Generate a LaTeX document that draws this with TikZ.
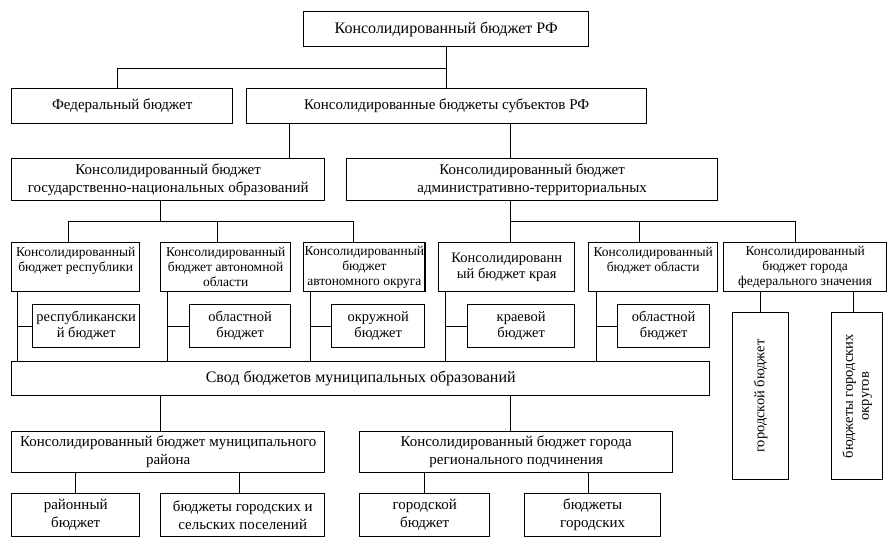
\documentclass[tikz,border=0pt]{standalone}
\usepackage{fontspec}
\setmainfont{Liberation Serif}
\begin{document}
\begin{tikzpicture}[x=1pt,y=-1pt,
    box/.style={draw, line width=1.4pt, anchor=north west, align=center, inner sep=1pt},
    lnk/.style={line width=0.8pt},
    large/.style={font=\fontsize{16}{18}\selectfont},
    big/.style={font=\fontsize{15}{18}\selectfont},
    mid/.style={font=\fontsize{14.5}{16}\selectfont},
    sml/.style={font=\fontsize{13.5}{15}\selectfont}]
        \useasboundingbox (0,0) rectangle (887,542);
        % livello federale
        \node[box,large,minimum width=285,minimum height=35] (top) at (303,11) {Консолидированный бюджет РФ};
        \node[box,big,minimum width=221,minimum height=35] (fed) at (11,88) {Федеральный бюджет};
        \node[box,big,minimum width=400,minimum height=35] (subj) at (246,88) {Консолидированные бюджеты субъектов РФ};
        \node[box,big,minimum width=313,minimum height=42] (gov) at (11,158) {Консолидированный бюджет\\государственно-национальных образований};
        \node[box,big,minimum width=371,minimum height=42] (adm) at (346,158) {Консолидированный бюджет\\административно-территориальных};

        % subjects
        \node[box,sml,minimum width=128,minimum height=49] (resp) at (11,242) {Консолидированный\\бюджет республики\\\mbox{}};
        \node[box,sml,minimum width=130,minimum height=49] (ao) at (160,242) {Консолидированный\\бюджет автономной\\области};
        \node[box,sml,minimum width=121,minimum height=49] (aok) at (303,242) {Консолидированный\\бюджет\\автономного округа};
        \node[box,mid,minimum width=136,minimum height=49] (kray) at (438,242) {Консолидированн\\ый бюджет края};
        \node[box,sml,minimum width=129,minimum height=49] (obl) at (588,242) {Консолидированный\\бюджет области\\\mbox{}};
        \node[box,sml,minimum width=163,minimum height=49] (fcity) at (723,242) {Консолидированный\\бюджет города\\федерального значения};

        % bilanci propri
        \node[box,mid,minimum width=107,minimum height=43] (respb) at (32,304) {республикански\\й бюджет};
        \node[box,mid,minimum width=101,minimum height=43] (oblb) at (189,304) {областной\\бюджет};
        \node[box,mid,minimum width=93,minimum height=43] (okrb) at (331,304) {окружной\\бюджет};
        \node[box,mid,minimum width=107,minimum height=43] (krb) at (467,304) {краевой\\бюджет};
        \node[box,mid,minimum width=92,minimum height=43] (oblb2) at (617,304) {областной\\бюджет};
        \node[box,mid,minimum width=56,minimum height=167] (gorb) at (732,312) {};
        \node[mid,rotate=90] at (gorb.center) {городской бюджет};
        \node[box,mid,minimum width=51,minimum height=167] (gorok) at (831,312) {};
        \node[mid,rotate=90,align=center] at (gorok.center) {бюджеты городских\\округов};

        % livello municipale
        \node[box,large,minimum width=698,minimum height=34] (svod) at (11,361) {Свод бюджетов муниципальных образований};
        \node[box,big,minimum width=313,minimum height=41] (mr) at (11,431) {Консолидированный бюджет муниципального\\района};
        \node[box,big,minimum width=313,minimum height=41] (gr) at (359,431) {Консолидированный бюджет города\\регионального подчинения};
        \node[box,big,minimum width=128,minimum height=43] (rb) at (11,493) {районный\\бюджет};
        \node[box,big,minimum width=164,minimum height=43] (gsp) at (160,493) {бюджеты городских и\\сельских поселений};
        \node[box,big,minimum width=130,minimum height=43] (gb) at (359,493) {городской\\бюджет};
        \node[box,big,minimum width=136,minimum height=43] (bg) at (524,493) {бюджеты\\городских};

        % collegamenti
        \draw[lnk] (top.south) -- (top.south |- subj.north);
        \draw[lnk] (top.south |- 0,68) -| (fed.north -| 117,0);
        \draw[lnk] (subj.south -| 289,0) -- (gov.north -| 289,0);
        \draw[lnk] (subj.south -| 510,0) -- (adm.north -| 510,0);
        \draw[lnk] (gov.south -| 160,0) -- (160,221);
        \draw[lnk] (resp.north -| 68,0) |- (353,221) -- (aok.north -| 353,0);
        \draw[lnk] (ao.north -| 217,0) -- (217,221);
        \draw[lnk] (adm.south -| 510,0) -- (kray.north -| 510,0);
        \draw[lnk] (510,221) -| (fcity.north -| 795,0);
        \draw[lnk] (obl.north -| 639,0) -- (639,221);
        \draw[lnk] (fcity.south -| gorb.north) -- (gorb.north);
        \draw[lnk] (fcity.south -| 853,0) -- (gorok.north -| 853,0);
        % linee laterali
        \foreach \nd/\bb/\xx in {resp/respb/17, ao/oblb/167, aok/okrb/310, kray/krb/445, obl/oblb2/596}{
          \draw[lnk] (\nd.south -| \xx,0) -- (svod.north -| \xx,0);
          \draw[lnk] (\bb.west -| \xx,0) -- (\bb.west);
        }
        \draw[lnk] (svod.south -| 160,0) -- (mr.north -| 160,0);
        \draw[lnk] (svod.south -| 510,0) -- (gr.north -| 510,0);
        \draw[lnk] (mr.south -| rb.north) -- (rb.north);
        \draw[lnk] (mr.south -| 239,0) -- (gsp.north -| 239,0);
        \draw[lnk] (gr.south -| gb.north) -- (gb.north);
        \draw[lnk] (gr.south -| 588,0) -- (bg.north -| 588,0);
\end{tikzpicture}
\end{document}
